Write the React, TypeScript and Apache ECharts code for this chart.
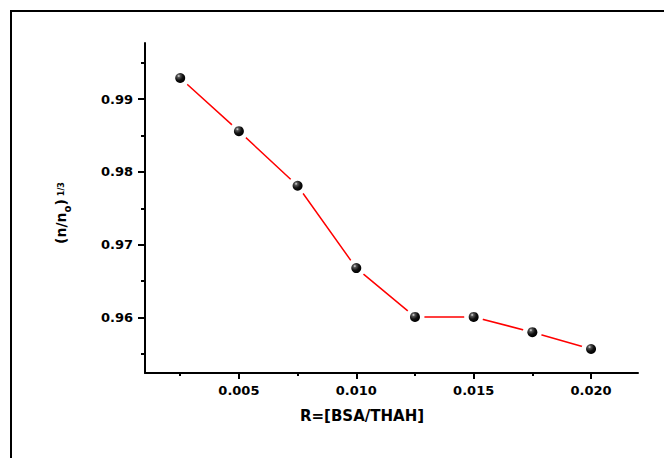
import React, { useEffect, useRef } from 'react';
import * as echarts from 'echarts';

const xValues = [0.0025, 0.005, 0.0075, 0.01, 0.0125, 0.015, 0.0175, 0.02];
const yValues = [0.9929, 0.9856, 0.9781, 0.9668, 0.9601, 0.9601, 0.958, 0.9557];
const xMajorTicks = [0.005, 0.01, 0.015, 0.02];
const xMinorTicks = [0.0025, 0.0075, 0.0125, 0.0175];
const yMajorTicks = [0.96, 0.97, 0.98, 0.99];
const yMinorTicks = [0.955, 0.965, 0.975, 0.985, 0.995];
const xTitle = 'R=[BSA/THAH]';
const yTitleMain = '(n/n';
const yTitleSub = 'o';
const yTitleSup = '1/3';

const FONT = 'DejaVu Sans';

export default function App() {
  const ref = useRef<HTMLDivElement>(null);
  useEffect(() => {
    if (!ref.current) return;
    const chart = echarts.init(ref.current, undefined, { renderer: 'svg' });
    const points = xValues.map((x, i) => [x, yValues[i]]);
    const labelStyle = {
      fontFamily: FONT,
      fontWeight: 'bold' as const,
      fontSize: 13,
      color: '#000',
    };
    const xMin = 0.001;
    const xMax = 0.022;
    const yMin = 0.9524;
    const yMax = 0.9977;
    chart.setOption({
      animation: false,
      backgroundColor: '#fff',
      grid: { left: 145, top: 43, right: 26, bottom: 85, containLabel: false },
      xAxis: [
        {
          type: 'value',
          min: xMin,
          max: xMax,
          position: 'bottom',
          axisLine: { onZero: false, lineStyle: { color: '#000', width: 2 } },
          axisTick: { customValues: xMajorTicks, length: 6, lineStyle: { color: '#000', width: 2 } },
          axisLabel: {
            ...labelStyle,
            customValues: xMajorTicks,
            margin: 11,
            formatter: (v: number) => v.toFixed(3),
          },
          splitLine: { show: false },
        },
        {
          type: 'value',
          min: xMin,
          max: xMax,
          position: 'bottom',
          axisLine: { show: false, onZero: false },
          axisTick: { customValues: xMinorTicks, length: 3, lineStyle: { color: '#000', width: 2 } },
          axisLabel: { show: false },
          splitLine: { show: false },
        },
      ],
      yAxis: [
        {
          type: 'value',
          min: yMin,
          max: yMax,
          position: 'left',
          axisLine: { show: true, onZero: false, lineStyle: { color: '#000', width: 2 } },
          axisTick: { show: true, customValues: yMajorTicks, length: 7, lineStyle: { color: '#000', width: 2 } },
          axisLabel: {
            ...labelStyle,
            customValues: yMajorTicks,
            margin: 12,
            formatter: (v: number) => v.toFixed(2),
          },
          splitLine: { show: false },
        },
        {
          type: 'value',
          min: yMin,
          max: yMax,
          position: 'left',
          axisLine: { show: false, onZero: false },
          axisTick: { show: true, customValues: yMinorTicks, length: 4, lineStyle: { color: '#000', width: 2 } },
          axisLabel: { show: false },
          splitLine: { show: false },
        },
      ],
      series: [
        {
          type: 'line',
          data: points,
          xAxisIndex: 0,
          yAxisIndex: 0,
          symbol: 'none',
          lineStyle: { color: '#ff0000', width: 1.5 },
          z: 2,
        },
        {
          type: 'scatter',
          data: points,
          xAxisIndex: 0,
          yAxisIndex: 0,
          symbol: 'circle',
          symbolSize: 19,
          itemStyle: { color: '#ffffff', opacity: 1 },
          z: 3,
          silent: true,
        },
        {
          type: 'scatter',
          data: points,
          xAxisIndex: 0,
          yAxisIndex: 0,
          symbol: 'circle',
          symbolSize: 10,
          itemStyle: {
            opacity: 1,
            color: new echarts.graphic.RadialGradient(0.35, 0.3, 0.7, [
              { offset: 0, color: '#e8e8e8' },
              { offset: 0.22, color: '#555555' },
              { offset: 0.6, color: '#111111' },
              { offset: 1, color: '#000000' },
            ]),
          },
          z: 4,
        },
      ],
      graphic: [
        {
          type: 'polyline',
          shape: { points: [[11, 458], [11, 11], [664, 11]] },
          style: { stroke: '#000', lineWidth: 2, fill: 'none' },
          silent: true,
        },
        {
          type: 'text',
          x: 362,
          y: 416,
          style: {
            text: xTitle,
            fontFamily: FONT,
            fontWeight: 'bold',
            fontSize: 15,
            fill: '#000',
            textAlign: 'center',
            textVerticalAlign: 'middle',
          },
        },
        {
          type: 'text',
          x: 61,
          y: 213,
          rotation: Math.PI / 2,
          style: {
            text: `{a|${yTitleMain}}{b|${yTitleSub}}{a|)}{c|${yTitleSup}}`,
            fill: '#000',
            textAlign: 'center',
            textVerticalAlign: 'middle',
            rich: {
              a: { fontFamily: FONT, fontWeight: 'bold', fontSize: 14, lineHeight: 22, fill: '#000' },
              b: { fontFamily: FONT, fontWeight: 'bold', fontSize: 10, lineHeight: 12, verticalAlign: 'bottom', fill: '#000' },
              c: { fontFamily: FONT, fontWeight: 'bold', fontSize: 8, lineHeight: 22, verticalAlign: 'middle', padding: [0, 0, 0, 3], fill: '#000' },
            },
          },
        },
      ],
    });
    return () => chart.dispose();
  }, []);
  return (
    <div
      ref={ref}
      style={{ position: 'fixed', left: 0, top: 0, width: 664, height: 458 }}
    />
  );
}
